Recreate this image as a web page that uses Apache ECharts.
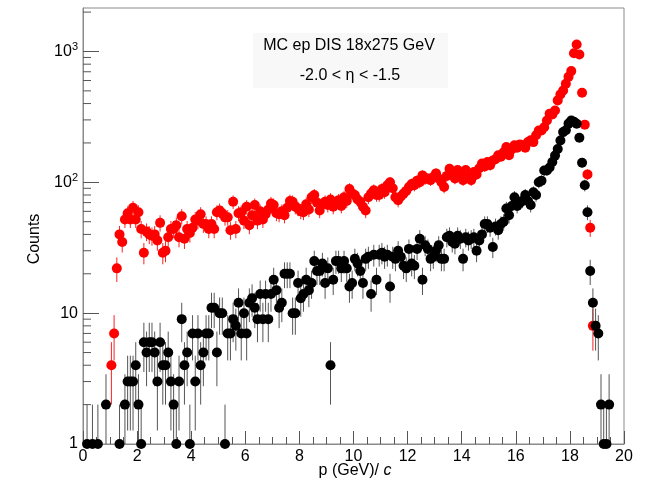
<!DOCTYPE html>
<html><head><meta charset="utf-8">
<script src="https://cdn.jsdelivr.net/npm/echarts@6/dist/echarts.min.js"></script>
<style>html,body{margin:0;padding:0;background:#fff}#c{width:651px;height:485px}</style>
</head><body><div id="c"></div>
<script>
// Histogram binning: 200 bins of 0.1 GeV from 0 to 20
const binLow = 0;
const binWidth = 0.1;

// Counts per bin (null = empty bin), red histogram
const redCounts = [
  null,null,null,null,null,null,null,null,null,null,      // 0.0-1.0
  4, 7, 22, 40, 35, 52, 58, 52, 64, 52,                   // 1.0-2.0
  59, 44, 29, 42, 40, 39, 40, 36, 49, 29,                 // 2.0-3.0
  30, 38, 44, 44, 47, 38, 55, 37, 44, 41,                 // 3.0-4.0
  45, 52, 51, 57, 48, 48, 44, 48, 44, 59,                 // 4.0-5.0
  61, 58, 54, 54, 43, 71, 44, 58, 59, 51,                 // 5.0-6.0
  65, 47, 56, 67, 51, 60, 52, 57, 62, 69,                 // 6.0-7.0
  67, 58, 57, 60, 56, 64, 72, 71, 65, 63,                 // 7.0-8.0
  60, 59, 68, 62, 77, 80, 70, 61, 68, 71,                 // 8.0-9.0
  67, 74, 65, 70, 73, 66, 77, 72, 89, 82,                 // 9.0-10.0
  80, 74, 71, 65, 61, 77, 82, 87, 80, 80,                 // 10.0-11.0
  89, 84, 95, 100, 90, 77, 73, 78, 82, 86,                // 11.0-12.0
  92, 97, 95, 103, 100, 113, 106, 107, 104, 110,          // 12.0-13.0
  117, 107, 100, 92, 112, 127, 118, 107, 124, 118,        // 13.0-14.0
  104, 124, 112, 104, 120, 115, 128, 139, 132, 143,       // 14.0-15.0
  135, 147, 150, 161, 157, 170, 186, 161, 178, 192,       // 15.0-16.0
  184, 195, 192, 184, 203, 210, 203, 229, 249, 249,       // 16.0-17.0
  264, 297, 334, 330, 354, 423, 470, 504, 567, 640,       // 17.0-18.0
  708, 971, 1131, 948, 484, 276, 115, 45, 8, null,        // 18.0-19.0
  null,null,null,null,null,null,null,null,null,null       // 19.0-20.0
];

// Counts per bin (null = empty bin), black histogram
const blackCounts = [
  null, 1, null, 1, null, 1, null, null, 2, null,        // 0.0-1.0
  null, null, null, 1, null, 2, 3, 3, 3, 4,               // 1.0-2.0
  2, 1, 6, 5, 6, 6, 5, 3, 6, 4,                           // 2.0-3.0
  4, 5, 3, 2, 1, 3, 9, 4, 5, 1,                           // 3.0-4.0
  7, 3, 7, 4, 5, 7, 7, 11, 11, 5,                         // 4.0-5.0
  10, 10, 1, 7, 7, 9, 8, 12, 7, 10,                       // 5.0-6.0
  7, 12, 13, 11, 9, 14, 9, 14, 9, 14,                     // 6.0-7.0
  18, 15, 11, 12, 20, 20, 20, 10, 10, 17,                 // 7.0-8.0
  13, 14, 18, 15, 17, 25, 21, 21, 24, 17,                 // 8.0-9.0
  22, 4, 18, 25, 25, 22, 25, 22, 16, 17,                  // 9.0-10.0
  26, 24, 21, 17, 26, 27, 14, 28, 18, 28,                 // 10.0-11.0
  29, 27, 28, 16, 27, 26, 30, 27, 23, 22,                 // 11.0-12.0
  31, 24, 23, 31, 37, 18, 33, 31, 26, 27,                 // 12.0-13.0
  30, 33, 26, 26, 38, 39, 35, 34, 39, 37,                 // 13.0-14.0
  26, 38, 36, 37, 38, 30, 36, 40, 48, 48,                 // 14.0-15.0
  45, 32, 46, 43, 48, 50, 63, 56, 66, 77,                 // 15.0-16.0
  66, 70, 72, 80, 72, 67, 84, 80, 100, 103,               // 16.0-17.0
  123, 123, 130, 143, 160, 180, 209, 242, 250, 281,       // 17.0-18.0
  297, 290, 280, 219, 141, 95, 59, 21, 12, 8,             // 18.0-19.0
  7, 2, 1, 1, 2, null, null, null, null, null             // 19.0-20.0
];

const xMin = 0, xMax = 20, xInterval = 2;
const yMin = 1, yMax = 2150;
const yMajorTicks = [1, 10, 100, 1000];
const yMinorTicks = [2,3,4,5,6,7,8,9,20,30,40,50,60,70,80,90,200,300,400,500,600,700,800,900,2000];

const titleLine1 = 'MC ep DIS 18x275 GeV';
const titleLine2 = '-2.0 < \u03b7 < -1.5';
const yTitle = 'Counts';

function toPoints(counts) {
  const pts = [];
  counts.forEach((v, i) => {
    if (v != null && v > 0) pts.push([binLow + (i + 0.5) * binWidth, v]);
  });
  return pts;
}
function toErrors(counts) {
  const out = [];
  counts.forEach((v, i) => {
    if (v != null && v > 0) {
      const e = Math.sqrt(v);
      out.push([binLow + (i + 0.5) * binWidth, v, Math.max(v - e, yMin), v + e]);
    }
  });
  return out;
}
function errRender(color) {
  return function (params, api) {
    const x = api.value(0);
    const p1 = api.coord([x, api.value(3)]);
    const p2 = api.coord([x, api.value(2)]);
    return { type: 'line', shape: { x1: p1[0], y1: p1[1], x2: p2[0], y2: p2[1] },
      style: { stroke: color, lineWidth: 1 } };
  };
}

const FONT = 'Liberation Sans, Arial, Helvetica, sans-serif';
const sup = { '1': '', '10': '', '100': '2', '1000': '3' };

const chart = echarts.init(document.getElementById('c'), null, { renderer: 'canvas' });
chart.setOption({
  animation: false,
  backgroundColor: '#fff',
  grid: { left: 83, right: 27, top: 8, bottom: 41, show: true, borderColor: '#8a8a8a', borderWidth: 1, backgroundColor: 'transparent' },
  xAxis: {
    type: 'value', min: xMin, max: xMax, interval: xInterval,
    axisLine: { show: true, lineStyle: { color: '#8a8a8a', width: 1 } },
    axisTick: { show: true, inside: true, length: 13, lineStyle: { color: '#555' } },
    minorTick: { show: true, splitNumber: 4, length: 7, lineStyle: { color: '#555' } },
    splitLine: { show: false },
    axisLabel: { fontSize: 16, color: '#000', fontFamily: FONT, margin: 5 }
  },
  yAxis: {
    type: 'log', logBase: 10, min: yMin, max: yMax,
    axisLine: { show: true, lineStyle: { color: '#8a8a8a', width: 1 } },
    axisTick: { show: true, inside: true, length: 16, customValues: yMajorTicks, lineStyle: { color: '#555' } },
    splitLine: { show: false },
    axisLabel: {
      customValues: yMajorTicks, margin: 5,
      formatter: function (v) {
        const k = String(Math.round(v));
        if (k === '1') return '{b|1}';
        if (k === '10') return '{b|10}';
        return '{b|10}{s|' + sup[k] + '}';
      },
      rich: {
        b: { fontSize: 16, color: '#000', fontFamily: FONT, lineHeight: 20 },
        s: { fontSize: 11, color: '#000', fontFamily: FONT, lineHeight: 11, verticalAlign: 'top' }
      }
    }
  },
  graphic: [
    { type: 'rect', left: 253, top: 33, shape: { width: 195, height: 55 }, style: { fill: '#f8f8f8' }, z: 1 },
    { type: 'text', x: 349, y: 46, style: { text: titleLine1, fontSize: 16, fontFamily: FONT, fill: '#000', align: 'center', verticalAlign: 'middle' }, z: 2 },
    { type: 'text', x: 350, y: 76, style: { text: titleLine2, fontSize: 16, fontFamily: FONT, fill: '#000', align: 'center', verticalAlign: 'middle' }, z: 2 },
    { type: 'text', x: 35, y: 239, rotation: Math.PI / 2, style: { text: yTitle, fontSize: 16, fontFamily: FONT, fill: '#000', align: 'center', verticalAlign: 'middle' } },
    { type: 'text', x: 355, y: 471, style: { text: '{n|p (GeV)/ }{i|c}', align: 'center', verticalAlign: 'middle',
        rich: { n: { fontSize: 16, fontFamily: FONT, color: '#000' }, i: { fontSize: 16, fontFamily: FONT, fontStyle: 'italic', color: '#000' } } } }
  ],
  series: [
    { type: 'custom', name: 'yMinor', data: yMinorTicks.map(v => [xMin, v]), encode: { x: 0, y: 1 }, clip: false, silent: true, z: 1,
      renderItem: function (params, api) {
        const p = api.coord([xMin, api.value(1)]);
        return { type: 'line', shape: { x1: p[0], y1: p[1], x2: p[0] + 8, y2: p[1] }, style: { stroke: '#555', lineWidth: 1 } };
      } },
    { type: 'custom', name: 'redErr', data: toErrors(redCounts), encode: { x: 0, y: 1 }, clip: true, z: 2, renderItem: errRender('#ff2020') },
    { type: 'scatter', name: 'red', data: toPoints(redCounts), symbol: 'circle', symbolSize: 10, clip: false, z: 3,
      itemStyle: { color: '#ff0000', opacity: 1 } },
    { type: 'custom', name: 'blackErr', data: toErrors(blackCounts), encode: { x: 0, y: 1 }, clip: true, z: 4, renderItem: errRender('#555') },
    { type: 'scatter', name: 'black', data: toPoints(blackCounts), symbol: 'circle', symbolSize: 10, clip: false, z: 5,
      itemStyle: { color: '#000', opacity: 1 } }
  ]
});
</script>
</body></html>
